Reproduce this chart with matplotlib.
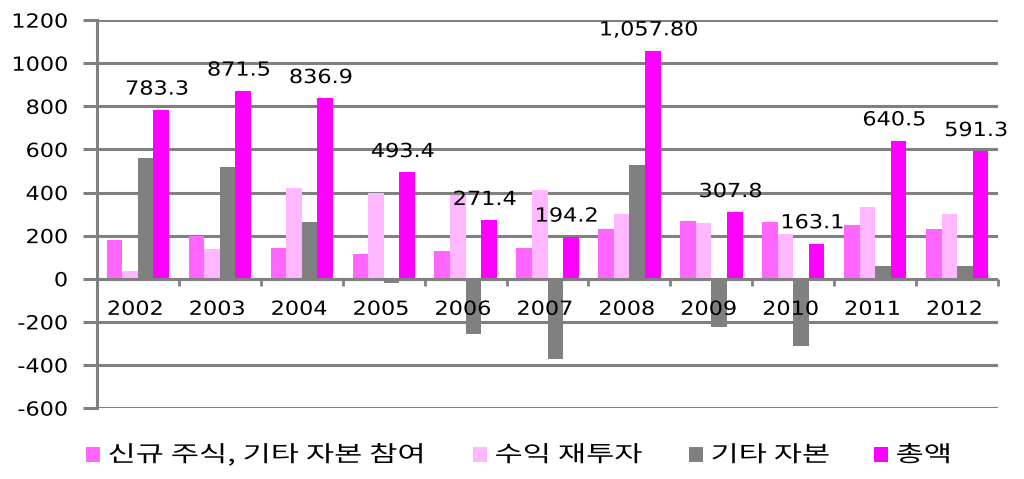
import matplotlib
matplotlib.use("Agg")
import matplotlib.pyplot as plt
import numpy as np
from matplotlib.patches import Rectangle
from matplotlib.patheffects import AbstractPathEffect
from matplotlib.transforms import Affine2D

years = ["2002", "2003", "2004", "2005", "2006", "2007", "2008", "2009", "2010", "2011", "2012"]
new_equity = [180, 200, 145, 115, 130, 145, 230, 270, 265, 250, 230]
reinvested = [35, 140, 420, 400, 390, 410, 300, 260, 210, 335, 300]
other_capital = [560, 520, 265, -20, -255, -370, 530, -225, -310, 60, 60]
total = [783.3, 871.5, 836.9, 493.4, 271.4, 194.2, 1057.8, 307.8, 163.1, 640.5, 591.3]
total_labels = ["783.3", "871.5", "836.9", "493.4", "271.4", "194.2", "1,057.80", "307.8", "163.1", "640.5", "591.3"]
series_names = ["신규 주식, 기타 자본 참여", "수익 재투자", "기타 자본", "총액"]
colors = ["#FF66FF", "#FFB8FF", "#808080", "#FF00FF"]
yticks = [-600, -400, -200, 0, 200, 400, 600, 800, 1000, 1200]


class Stretch(AbstractPathEffect):
    """Stretch text horizontally around an anchor (mimics the wide reference lettering)."""
    def __init__(self, sx, anchor="center"):
        super().__init__()
        self.sx = sx
        self.anchor = anchor

    def draw_path(self, renderer, gc, tpath, affine, rgbFace=None):
        bb = tpath.get_extents(affine)
        if self.anchor == "right":
            cx = bb.x1
        elif self.anchor == "left":
            cx = bb.x0
        else:
            cx = 0.5 * (bb.x0 + bb.x1)
        t = affine + Affine2D().translate(-cx, 0).scale(self.sx, 1).translate(cx, 0)
        renderer.draw_path(gc, tpath, t, rgbFace)


NUM_FS = 14
NUM_SX = 1.15

plt.rcParams['font.family'] = ['DejaVu Sans']
fig = plt.figure(figsize=(10.24, 4.79), dpi=100)
ax = fig.add_axes([0.0947, 0.148, 0.88, 0.81])

x = np.arange(len(years))
w = 0.19
series = [new_equity, reinvested, other_capital, total]
for k, (vals, c) in enumerate(zip(series, colors)):
    ax.bar(x + (k - 1.5) * w, vals, width=w, color=c, zorder=3, linewidth=0)

grid_c = "#808080"
ax.set_ylim(-600, 1200)
ax.set_xlim(-0.5, len(years) - 0.5)
ax.set_yticks(yticks)
ax.set_yticklabels([str(v) for v in yticks], fontsize=NUM_FS)
for lab in ax.get_yticklabels():
    lab.set_path_effects([Stretch(NUM_SX, "right")])
ax.yaxis.grid(True, color=grid_c, linewidth=2.2, zorder=1)
ax.set_xticks([])
for s in ["top", "right", "bottom"]:
    ax.spines[s].set_visible(False)
ax.spines["left"].set_color(grid_c)
ax.spines["left"].set_linewidth(2.2)
ax.tick_params(axis='y', length=10, width=2.2, color=grid_c, pad=11)

ax.axhline(0, color=grid_c, linewidth=2.2, zorder=4)
bounds = np.arange(len(years) + 1) - 0.5
ax.plot(bounds, np.zeros_like(bounds), linestyle='none', marker=3, markersize=5,
        markeredgewidth=2, color=grid_c, zorder=4, clip_on=False)

for i, yr in enumerate(years):
    ax.annotate(yr, (i, 0), xytext=(-2, -22), textcoords='offset points',
                ha='center', va='center', fontsize=NUM_FS, zorder=5,
                path_effects=[Stretch(NUM_SX)])

for i, (v, lab) in enumerate(zip(total, total_labels)):
    ax.annotate(lab, (i + 1.5 * w, v), xytext=(-3, 15), textcoords='offset points',
                ha='center', va='center', fontsize=NUM_FS, zorder=5,
                path_effects=[Stretch(NUM_SX)])

# Legend (drawn manually so the stretched lettering keeps the reference spacing)
W, H = 1024.0, 479.0
leg_marker_x = [86, 473, 689, 874]
leg_y = 455
for mx, name, c in zip(leg_marker_x, series_names, colors):
    fig.patches.append(Rectangle((mx / W, (H - 462) / H), 14 / W, 15 / H,
                                 transform=fig.transFigure, facecolor=c,
                                 edgecolor='none'))
    fig.text((mx + 22) / W, 1 - leg_y / H, name, ha='left', va='center',
             fontsize=16, family='Noto Sans CJK KR',
             path_effects=[Stretch(1.38, "left")])

fig.savefig("out.png", dpi=100)
